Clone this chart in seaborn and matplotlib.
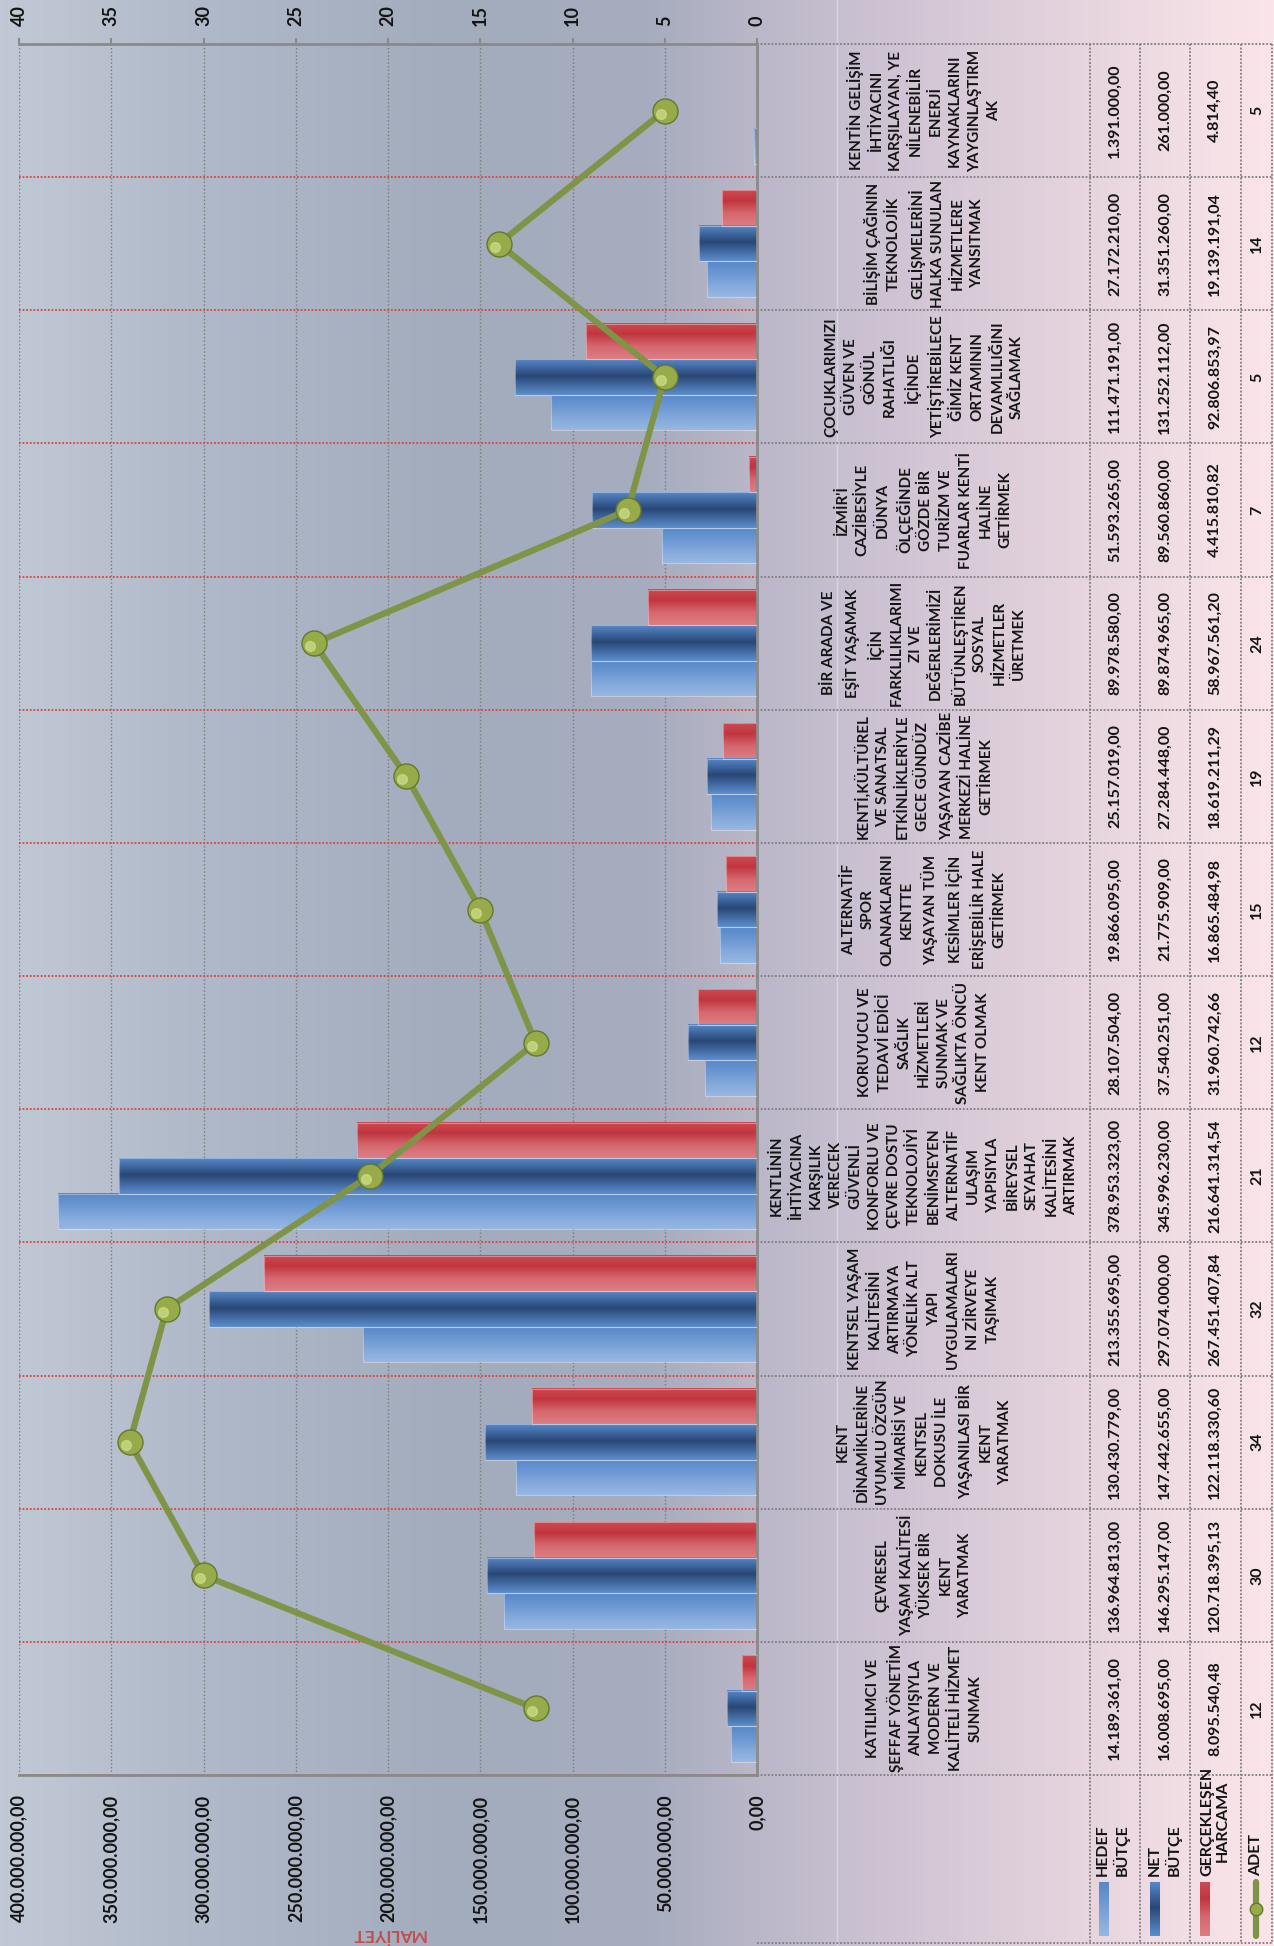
import numpy as np
import pandas as pd
import matplotlib
matplotlib.use("Agg")
import matplotlib.pyplot as plt
from matplotlib.colors import LinearSegmentedColormap, to_rgb
from matplotlib.transforms import ScaledTranslation
import seaborn as sns

# stratejik amaçlar (orijinal sıra: alttan üste)
amaclar = [
    "KATILIMCI VE\nŞEFFAF YÖNETİM\nANLAYIŞIYLA\nMODERN VE\nKALİTELİ HİZMET\nSUNMAK",
    "ÇEVRESEL\nYAŞAM KALİTESİ\nYÜKSEK BİR\nKENT\nYARATMAK",
    "KENT\nDİNAMİKLERİNE\nUYUMLU ÖZGÜN\nMİMARİSİ VE\nKENTSEL\nDOKUSU İLE\nYAŞANILASI BİR\nKENT\nYARATMAK",
    "KENTSEL YAŞAM\nKALİTESİNİ\nARTIRMAYA\nYÖNELİK ALT\nYAPI\nUYGULAMALARI\nNI ZİRVEYE\nTAŞIMAK",
    "KENTLİNİN\nİHTİYACINA\nKARŞILIK\nVERECEK\nGÜVENLİ\nKONFORLU VE\nÇEVRE DOSTU\nTEKNOLOJİYİ\nBENİMSEYEN\nALTERNATİF\nULAŞIM\nYAPISIYLA\nBİREYSEL\nSEYAHAT\nKALİTESİNİ\nARTIRMAK",
    "KORUYUCU VE\nTEDAVİ EDİCİ\nSAĞLIK\nHİZMETLERİ\nSUNMAK VE\nSAĞLIKTA ÖNCÜ\nKENT OLMAK",
    "ALTERNATİF\nSPOR\nOLANAKLARINI\nKENTTE\nYAŞAYAN TÜM\nKESİMLER İÇİN\nERİŞEBİLİR HALE\nGETİRMEK",
    "KENTİ,KÜLTÜREL\nVE SANATSAL\nETKİNLİKLERİYLE\nGECE GÜNDÜZ\nYAŞAYAN CAZİBE\nMERKEZİ HALİNE\nGETİRMEK",
    "BİR ARADA VE\nEŞİT YAŞAMAK\nİÇİN\nFARKLILIKLARIMI\nZI VE\nDEĞERLERİMİZİ\nBÜTÜNLEŞTİREN\nSOSYAL\nHİZMETLER\nÜRETMEK",
    "İZMİR'İ\nCAZİBESİYLE\nDÜNYA\nÖLÇEĞİNDE\nGÖZDE BİR\nTURİZM VE\nFUARLAR KENTİ\nHALİNE\nGETİRMEK",
    "ÇOCUKLARIMIZI\nGÜVEN VE\nGÖNÜL\nRAHATLIĞI\nİÇİNDE\nYETİŞTİREBİLECE\nĞİMİZ KENT\nORTAMININ\nDEVAMLILIĞINI\nSAĞLAMAK",
    "BİLİŞİM ÇAĞININ\nTEKNOLOJİK\nGELİŞMELERİNİ\nHALKA SUNULAN\nHİZMETLERE\nYANSITMAK",
    "KENTİN GELİŞİM\nİHTİYACINI\nKARŞILAYAN, YE\nNİLENEBİLİR\nENERJİ\nKAYNAKLARINI\nYAYGINLAŞTIRM\nAK",
]

hedef_butce = [14189361.00, 136964813.00, 130430779.00, 213355695.00, 378953323.00,
               28107504.00, 19866095.00, 25157019.00, 89978580.00, 51593265.00,
               111471191.00, 27172210.00, 1391000.00]
net_butce = [16008695.00, 146295147.00, 147442655.00, 297074000.00, 345996230.00,
             37540251.00, 21775909.00, 27284448.00, 89874965.00, 89560860.00,
             131252112.00, 31351260.00, 261000.00]
gerceklesen = [8095540.48, 120718395.13, 122118330.60, 267451407.84, 216641314.54,
               31960742.66, 16865484.98, 18619211.29, 58967561.20, 4415810.82,
               92806853.97, 19139191.04, 4814.40]
adet = [12, 30, 34, 32, 21, 12, 15, 19, 24, 7, 5, 14, 5]

maliyet_ticks = [0, 50e6, 100e6, 150e6, 200e6, 250e6, 300e6, 350e6, 400e6]
adet_ticks = [0, 5, 10, 15, 20, 25, 30, 35, 40]

SERI = ["HEDEF BÜTÇE", "NET BÜTÇE", "GERÇEKLEŞEN HARCAMA"]

sns.set_style("white")
plt.rcParams["font.family"] = ["Lato", "DejaVu Sans"]
plt.rcParams["font.weight"] = "bold"

W, H = 1274, 1946
PX0, PX1 = 19, 757
PY0, PY1 = 44, 1775
LEG_Y1 = 1943
COL_EDGES = [1090, 1140, 1190, 1241, 1272]
COL_MID = [1115, 1165, 1215, 1257]
TXT = "#141414"
FS_TXT = 11
FS_NUM = 11.5
FS_AX = 13


def tr_fmt(v):
    s = f"{v:,.2f}"
    return s.replace(",", "#").replace(".", ",").replace("#", ".")


def grad(colors):
    return LinearSegmentedColormap.from_list("g", colors)


cmaps = {
    "HEDEF BÜTÇE": grad([(0, "#5887c7"), (0.3, "#6896d2"), (0.7, "#86aadc"), (1, "#97b7e3")]),
    "NET BÜTÇE": grad([(0, "#5787c7"), (0.47, "#284776"), (1, "#5c8dcc")]),
    "GERÇEKLEŞEN HARCAMA": grad([(0, "#cb4a53"), (0.3, "#c1363e"), (0.65, "#d56870"), (1, "#de7d83")]),
}


def fill_grad(axis, x0, x1, ytop, ybot, cmap, z):
    img = cmap(np.linspace(0, 1, 64))[:, None, :]
    axis.imshow(img, extent=(x0, x1, ybot, ytop), origin="upper", aspect="auto",
                interpolation="bilinear", zorder=z)


fig = plt.figure(figsize=(W / 100, H / 100), dpi=100)

# arka plan + tablo katmanı (piksel koordinatları)
bg = fig.add_axes([0, 0, 1, 1], zorder=0)
bg.set_xlim(0, W)
bg.set_ylim(H, 0)
bg.axis("off")
stops_x = [0, 200, 450, 650, 757, 900, 1100, 1274]
stops_c = ["#c2c9d6", "#b0b9c9", "#a2acbd", "#a6adbf", "#bab7c8", "#d0c4d4", "#e8d6df", "#fbe5ea"]
xs = np.linspace(0, W, 400)
rgb = np.array([to_rgb(c) for c in stops_c])
strip = np.stack([np.interp(xs, stops_x, rgb[:, k]) for k in range(3)], axis=-1)[None, :, :]
bg.imshow(strip, extent=(0, W, H, 0), aspect="auto", zorder=0)
bg.plot([837, 837], [0, H], color="white", alpha=0.35, lw=1, zorder=1)

# ana eksen
ax = fig.add_axes([PX0 / W, 1 - PY1 / H, (PX1 - PX0) / W, (PY1 - PY0) / H], zorder=1)
ax.set_facecolor("none")

order = amaclar[::-1]
n = len(order)
df = pd.DataFrame({
    "amac": amaclar * 3,
    "seri": np.repeat(SERI, len(amaclar)),
    "deger": hedef_butce + net_butce + gerceklesen,
})
hue_order = SERI[::-1]
sns.barplot(data=df, x="deger", y="amac", hue="seri", order=order, hue_order=hue_order,
            orient="h", width=0.8, dodge=True, legend=False, errorbar=None, ax=ax)

for cont, seri in zip(ax.containers, hue_order):
    for p in cont.patches:
        x0, y0, w, h = p.get_x(), p.get_y(), p.get_width(), p.get_height()
        fill_grad(ax, x0, x0 + w, y0, y0 + h, cmaps[seri], 2)
        p.set_facecolor("none")
        p.set_edgecolor((1, 1, 1, 0.35))
        p.set_linewidth(0.8)
        p.set_zorder(3)

ax.set_xlim(400e6, 0)
ax.set_ylim(n - 0.5, -0.5)
ax.set_xticks(maliyet_ticks)
ax.set_xticklabels([tr_fmt(t) for t in maliyet_ticks], rotation=90, fontsize=FS_AX,
                   fontweight="bold", color=TXT)
ax.tick_params(axis="x", length=0, pad=14)
ax.set_xlabel("")
ax.set_ylabel("")
ax.grid(axis="x", color="#7a7a7a", linestyle=(0, (1, 1.6)), linewidth=1)
ax.set_axisbelow(True)
for s in ["left", "top"]:
    ax.spines[s].set_visible(False)
for s in ["bottom", "right"]:
    ax.spines[s].set_color("#8a8a8a")
    ax.spines[s].set_linewidth(2)

# adet çizgisi (ikincil eksen)
ax2 = ax.twiny()
ax2.set_zorder(2)
sns.pointplot(x=adet[::-1], y=order, order=order, orient="h", errorbar=None,
              color="#7f9446", markers="o", linestyles="-", ax=ax2,
              markersize=18, linewidth=4.5, markerfacecolor="#97ab4b",
              markeredgecolor="#65782c", markeredgewidth=1)
for ln in list(ax2.lines):
    xd, yd = ln.get_data()
    ax2.plot(xd, yd, "o", ms=7, color="#cfe08a", alpha=0.7, linestyle="none",
             transform=ax2.transData + ScaledTranslation(-0.04, -0.03, fig.dpi_scale_trans),
             zorder=5)
ax2.set_xlim(40, 0)
ax2.set_ylim(n - 0.5, -0.5)
ax2.set_xticks(adet_ticks)
ax2.set_xticklabels([str(t) for t in adet_ticks], rotation=90, fontsize=FS_AX,
                    fontweight="bold", color=TXT)
ax2.tick_params(axis="x", direction="out", length=4, width=1.5, color="#8a8a8a", pad=9)
ax2.set_xlabel("")
ax2.set_ylabel("")
for s in ["left", "right", "bottom"]:
    ax2.spines[s].set_visible(False)
ax2.spines["top"].set_color("#8a8a8a")
ax2.spines["top"].set_linewidth(2)

# kategori sınırları (kırmızı noktalı)
ax.set_yticks([])
ax.set_yticks(np.arange(-0.5, n, 1), minor=True)
ax.tick_params(axis="y", which="both", length=0, labelleft=False, labelright=False)
ax2.tick_params(axis="y", which="both", length=0, labelleft=False, labelright=False)
ax.grid(axis="y", which="minor", color="#e0403c", linestyle=(0, (1, 1)), linewidth=1.3)

# veri tablosu
row_h = (PY1 - PY0) / n
dot = dict(color="#7d7d7d", linestyle=(0, (1, 1)), linewidth=1.3, zorder=2)
for k in range(n + 1):
    yy = PY0 + k * row_h
    bg.plot([PX1, COL_EDGES[-1]], [yy, yy], **dot)
bg.plot([PX1, COL_EDGES[-1]], [LEG_Y1, LEG_Y1], **dot)
for xx in COL_EDGES:
    bg.plot([xx, xx], [PY0, LEG_Y1], **dot)

for i, name in enumerate(order):
    yc = PY0 + (i + 0.5) * row_h
    j = amaclar.index(name)
    bg.text(924, yc, name, rotation=90, ha="center", va="center", multialignment="center",
            fontsize=FS_TXT, fontweight="bold", color=TXT, linespacing=1.5, zorder=3)
    vals = [tr_fmt(hedef_butce[j]), tr_fmt(net_butce[j]), tr_fmt(gerceklesen[j]), str(adet[j])]
    for xc, v in zip(COL_MID, vals):
        bg.text(xc, yc, v, rotation=90, ha="center", va="center", fontsize=FS_NUM,
                fontweight="bold", color=TXT, zorder=3)

# açıklama satırı
leg_keys = [("HEDEF\nBÜTÇE", 1104, 1113, "left"), ("NET\nBÜTÇE", 1155, 1165, "left"),
            ("GERÇEKLEŞEN\nHARCAMA", 1205, 1215, "center")]
for (lbl, kx, tx, al), seri in zip(leg_keys, SERI):
    fill_grad(bg, kx - 5, kx + 5, 1882, 1936, cmaps[seri], 3)
    bg.text(tx, 1876, lbl, rotation=90, ha="center", va="bottom", multialignment=al,
            fontsize=11.5, fontweight="bold", color=TXT, zorder=3, linespacing=1.2)
bg.plot([1256, 1256], [1882, 1936], color="#7f9446", lw=4.5, zorder=3, solid_capstyle="round")
bg.plot([1256], [1909], "o", ms=9, color="#97ab4b", mec="#65782c", zorder=4)
bg.text(1256, 1876, "ADET", rotation=90, ha="center", va="bottom", fontsize=11.5,
        fontweight="bold", color=TXT, zorder=3)

bg.text((PX0 + PX1) / 2, 1934, "MALİYET", rotation=180, ha="center", va="center",
        fontsize=12.5, fontweight="bold", color="#c0504d", zorder=3)

fig.savefig("out.png", dpi=100)
plt.close(fig)
